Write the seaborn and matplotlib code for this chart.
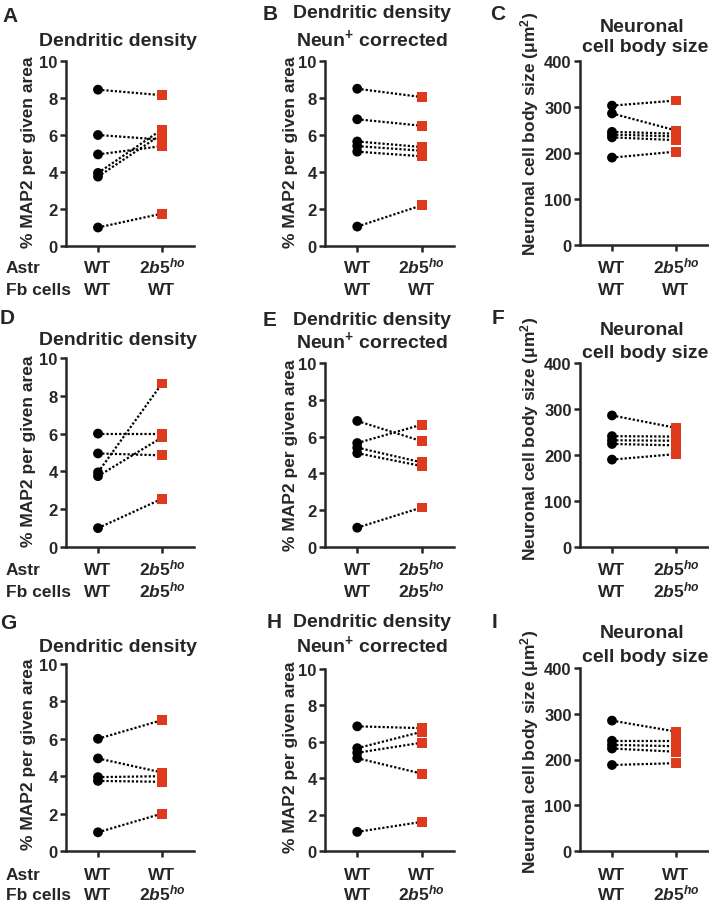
import matplotlib
matplotlib.use("Agg")
import matplotlib.pyplot as plt
import seaborn as sns
import pandas as pd

sns.set_style("ticks")
plt.rcParams['font.family'] = ['Liberation Sans', 'DejaVu Sans']
plt.rcParams['font.weight'] = 'bold'
plt.rcParams['mathtext.fontset'] = 'custom'
plt.rcParams['mathtext.rm'] = 'Liberation Sans'
plt.rcParams['mathtext.it'] = 'Liberation Sans:italic:bold'
plt.rcParams['mathtext.bf'] = 'Liberation Sans:bold'

RED = '#DE3B1E'
KO = r'$\mathit{2b5}^{\mathit{ho}}$'

# paired values, WT/WT culture vs. the other condition
a_ctrl = [8.45, 6.0, 4.95, 3.95, 3.75, 1.0]
a_test = [8.15, 5.75, 5.4, 6.3, 6.05, 1.75]
b_ctrl = [8.5, 6.85, 5.65, 5.4, 5.1, 1.05]
b_test = [8.05, 6.5, 5.35, 5.15, 4.85, 2.2]
c_ctrl = [303, 286, 246, 240, 234, 190]
c_test = [314, 249, 242, 236, 228, 203]

d_ctrl = [6.0, 4.95, 3.95, 3.75, 1.0]
d_test = [6.0, 4.85, 8.65, 5.8, 2.55]
e_ctrl = [6.85, 5.65, 5.4, 5.1, 1.05]
e_test = [5.75, 6.65, 4.6, 4.4, 2.15]
f_ctrl = [286, 241, 232, 224, 190]
f_test = [259, 240, 231, 221, 202]

g_ctrl = [6.0, 4.95, 3.95, 3.75, 1.0]
g_test = [7.0, 4.2, 4.0, 3.7, 2.0]
h_ctrl = [6.85, 5.65, 5.4, 5.1, 1.05]
h_test = [6.75, 6.55, 5.95, 4.25, 1.6]
i_ctrl = [285, 241, 232, 224, 188]
i_test = [261, 241, 229, 217, 192]

astr_labels = [['WT', KO], ['WT', KO], ['WT', 'WT']]
fb_labels = [['WT', 'WT'], ['WT', KO], ['WT', KO]]

titles = [['Dendritic density'],
          ['Dendritic density', r'Neun$^{\mathbf{+}}$ corrected'],
          ['Neuronal', 'cell body size']]
ylabels = ['% MAP2 per given area', '% MAP2 per given area',
           r'Neuronal cell body size $\mathrm{(\mu m^{2})}$']
letters = ['A', 'B', 'C', 'D', 'E', 'F', 'G', 'H', 'I']
data = [(a_ctrl, a_test), (b_ctrl, b_test), (c_ctrl, c_test),
        (d_ctrl, d_test), (e_ctrl, e_test), (f_ctrl, f_test),
        (g_ctrl, g_test), (h_ctrl, h_test), (i_ctrl, i_test)]

# layout in pixels
W, H = 709, 904
cols = [(66, 194), (325, 454), (580, 708)]
boxes_y = [[(62, 247), (62, 247), (62, 246)],
           [(359, 548), (364, 548), (364, 548)],
           [(665, 852), (670, 852), (669, 852)]]
letter_pos = [[(2, 21.5), (263, 19.5), (490, 19.5)],
              [(0, 324), (263, 326), (492, 324)],
              [(0, 629), (267, 628), (492, 628)]]
title_pos = [[[(118, 46.5)], [(372, 18.5), (372, 45.5)], [(642, 32.5), (645, 52)]],
             [[(118, 345)], [(372, 325), (372, 348)], [(642, 335), (645, 358)]],
             [[(118, 652)], [(372, 627), (372, 652)], [(642, 638), (645, 662)]]]
ylab_pos = [[(28.5, 152), (290, 152), (530, 134)],
            [(28.5, 451), (290, 455), (530, 439)],
            [(28.5, 754), (290, 757), (530, 752)]]
xrow_base = [(273, 295), (575, 597), (880, 900)]


def fx(x):
    return x / W


def fy(y):
    return 1 - y / H


def draw_panel(ax, ctrl, test, ymax, step):
    n = len(ctrl)
    df = pd.DataFrame({
        'pair': list(range(n)) * 2,
        'pos': [0] * n + [1] * n,
        'value': ctrl + test,
        'group': ['ctrl'] * n + ['test'] * n,
    })
    sns.lineplot(data=df, x='pos', y='value', units='pair', estimator=None,
                 color='black', lw=1.6, linestyle=(0, (1, 0.9)), ax=ax, zorder=2)
    sns.scatterplot(data=df, x='pos', y='value', hue='group', style='group',
                    palette={'ctrl': 'black', 'test': RED},
                    markers={'ctrl': 'o', 'test': 's'}, s=50, linewidth=0,
                    legend=False, ax=ax, zorder=3, clip_on=False)
    ax.set_xlim(-0.5, 1.5)
    ax.set_ylim(0, ymax)
    ax.set_xticks([0, 1])
    ax.set_xticklabels([])
    ax.set_yticks(range(0, ymax + 1, step))
    ax.set_xlabel('')
    ax.set_ylabel('')
    sns.despine(ax=ax)
    for s in ['left', 'bottom']:
        ax.spines[s].set_linewidth(1.8)
    ax.tick_params(width=1.8, length=4.5, labelsize=12, pad=1.5)


fig = plt.figure(figsize=(W / 100, H / 100), dpi=100)

for r in range(3):
    for c in range(3):
        k = r * 3 + c
        left, right = cols[c]
        top, bottom = boxes_y[r][c]
        ax = fig.add_axes([fx(left), fy(bottom), (right - left) / W, (bottom - top) / H])
        ctrl, test = data[k]
        if c == 2:
            draw_panel(ax, ctrl, test, 400, 100)
        else:
            draw_panel(ax, ctrl, test, 10, 2)

        lx, ly = letter_pos[r][c]
        fig.text(fx(lx), fy(ly), letters[k], fontsize=15, ha='left', va='baseline')
        for (tx, ty), line in zip(title_pos[r][c], titles[c]):
            fig.text(fx(tx), fy(ty), line, fontsize=14, ha='center', va='baseline')
        yx, yy = ylab_pos[r][c]
        fig.text(fx(yx), fy(yy), ylabels[c], fontsize=12.5, rotation=90,
                 ha='center', va='center')

        b1, b2 = xrow_base[r]
        xpix = [left + (right - left) * 0.25, left + (right - left) * 0.75]
        for j in range(2):
            fig.text(fx(xpix[j]), fy(b1), astr_labels[r][j], fontsize=12.5,
                     ha='center', va='baseline')
            fig.text(fx(xpix[j]), fy(b2), fb_labels[r][j], fontsize=12.5,
                     ha='center', va='baseline')
        if c == 0:
            fig.text(fx(6), fy(b1), 'Astr', fontsize=12.5, ha='left', va='baseline')
            fig.text(fx(6), fy(b2), 'Fb cells', fontsize=12.5, ha='left', va='baseline')

fig.savefig('out.png', dpi=100)
